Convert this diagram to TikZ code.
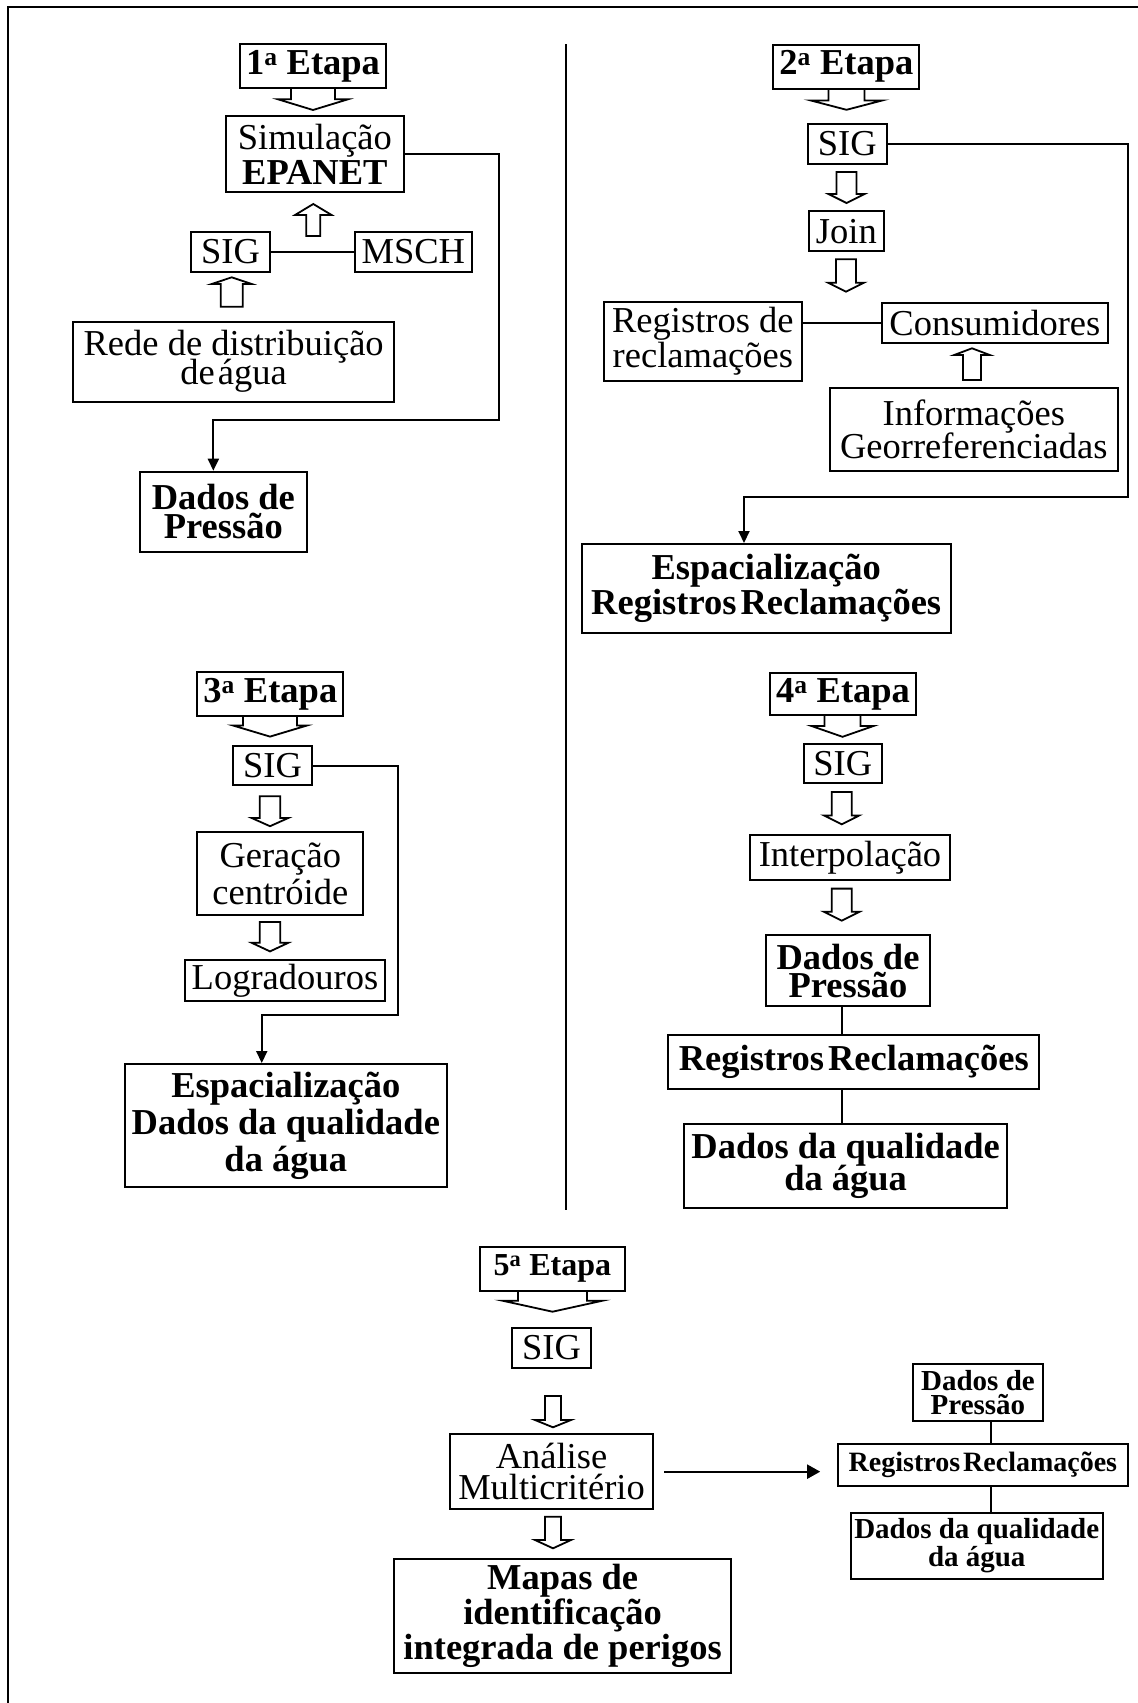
\documentclass[tikz,border=0pt]{standalone}
\usepackage{fontspec}
\setmainfont{Liberation Serif}
\usetikzlibrary{arrows.meta}
\newcommand\myfs[2]{\fontsize{#1}{#2}\selectfont\lineskiplimit=-100pt\relax}
\newcommand\mkbox[7]{\node[#2, minimum width={(#5-#3)*1pt}, minimum height={(#6-#4)*1pt}] (#1) at ({(#3+#5)/2},{-(#4+#6)/2}) {#7};}
\newcommand\harrow[6]{\draw[harr] ({#1-#5},{-#2}) -- ({#1-#5},{-#3}) -- ({#1-#6},{-#3}) -- ({#1},{-#4}) -- ({#1+#6},{-#3}) -- ({#1+#5},{-#3}) -- ({#1+#5},{-#2}) -- cycle;}
\newcommand\blockarr[6]{\draw[harr] ({#1-#5},{-#2}) -- ({#1-#5},{-#3}) -- ({#1-#6},{-#3}) -- ({#1},{-#4}) -- ({#1+#6},{-#3}) -- ({#1+#5},{-#3}) -- ({#1+#5},{-#2});}
\tikzset{
  bx/.style={draw, line width=2pt, inner sep=0pt, align=center, font={\myfs{36.5}{35}}},
  bxb/.style={bx, font={\bfseries\myfs{36.5}{35}}},
  harr/.style={line width=1.8pt, line join=miter},
  conn/.style={line width=2pt},
  arr/.style={conn, -{Triangle[length=12pt,width=11pt]}},
}
\begin{document}
\begin{tikzpicture}[x=1pt,y=1pt]
\useasboundingbox (0,0) rectangle (1138,-1703);
% frame and divider
\draw[line width=2.3pt] (7.8,-1703) -- (7.8,-6.7) -- (1138,-6.7);
\draw[line width=2pt] (566,-44) -- (566,-1210);

% ---------- 1a Etapa
\mkbox{et1}{bxb}{240}{44}{386}{88}{1\textsuperscript{a} Etapa}
\mkbox{sim}{bx}{225.7}{116}{404}{191.7}{Simulação\\\textbf{EPANET}}
\mkbox{sig1}{bx}{191}{231.7}{270}{271.7}{SIG}
\mkbox{msch}{bx}{355}{231.7}{471.7}{271.7}{MSCH}
\mkbox{rede}{bx,font={\myfs{36.5}{29}}}{73.3}{321.7}{394}{401.7}{Rede de distribuição\\de\kern3ptágua}
\mkbox{dp1}{bxb,font={\bfseries\myfs{36.5}{29}}}{140}{471.7}{306.7}{551.7}{Dados de\\Pressão}
\blockarr{313}{88}{99.3}{110}{22}{35}
\harrow{313.3}{236}{215}{204}{7}{18.3}
\harrow{231.7}{306.7}{284}{277.3}{11}{20}
\draw[conn] (sig1.east) -- (msch.west);
\draw[arr] (sim.east) -| (499.3,-420) -| ([xshift=-10pt]dp1.north);

% ---------- 2a Etapa
\mkbox{et2}{bxb}{773.4}{45}{919.3}{88.5}{2\textsuperscript{a} Etapa}
\mkbox{sig2}{bx}{808}{124}{886.6}{163.6}{SIG}
\mkbox{join}{bx}{809}{211}{883.8}{251.3}{Join}
\mkbox{reg2}{bx}{604}{301.7}{801.7}{381}{Registros de\\reclamações}
\mkbox{cons}{bx}{881.7}{302.7}{1108}{343}{Consumidores}
\mkbox{info}{bx,font={\myfs{36.5}{33}}}{830}{388.3}{1117.6}{470.7}{Informações\\Georreferenciadas}
\mkbox{esp2}{bxb}{581.7}{544}{950.7}{633.3}{Espacialização\\Registros\kern4pt Reclamações}
\blockarr{846.5}{88.5}{100.4}{109.8}{18}{36}
\harrow{846.5}{172}{194}{203}{10}{18}
\harrow{846}{259.3}{282.7}{291.7}{10}{18}
\harrow{972}{380}{355}{348.3}{9}{17.8}
\draw[conn] (reg2.east |- cons.west) -- (cons.west);
\draw[arr] (sig2.east) -| (1128,-496.5) -| ([xshift=-22.2pt]esp2.north);

% ---------- 3a Etapa
\mkbox{et3}{bxb}{197.3}{672}{343.3}{715.9}{3\textsuperscript{a} Etapa}
\mkbox{sig3}{bx}{233.3}{746.2}{311.7}{784.8}{SIG}
\mkbox{ger}{bx,font={\myfs{36.5}{37}}}{197.3}{832.4}{363.3}{915.2}{Geração\\centróide}
\mkbox{log}{bx}{185}{960}{385}{1001.4}{Logradouros}
\mkbox{esp3}{bxb,font={\bfseries\myfs{36.5}{37}}}{125}{1064}{446.7}{1187}{Espacialização\\Dados da qualidade\\da água}
\blockarr{270}{715.9}{725.5}{736.6}{27}{37}
\harrow{270}{796.2}{818}{826.2}{10.3}{18.3}
\harrow{270}{922}{942.8}{951.4}{10.3}{18.3}
\draw[arr] (sig3.east) -| (398.3,-1015.2) -| ([xshift=-24.1pt]esp3.north);

% ---------- 4a Etapa
\mkbox{et4}{bxb}{770}{672.5}{916}{715.4}{4\textsuperscript{a} Etapa}
\mkbox{sig4}{bx}{804}{744}{881.7}{783.2}{SIG}
\mkbox{interp}{bx}{750}{835}{950}{879.6}{Interpolação}
\mkbox{dp4}{bxb,font={\bfseries\myfs{36.5}{28}}}{766}{935}{930}{1006.4}{Dados de\\Pressão}
\mkbox{rr4}{bxb}{668.3}{1035}{1039.3}{1088.6}{Registros\kern4pt Reclamações}
\mkbox{dq4}{bxb,font={\bfseries\myfs{36.5}{32}}}{684}{1124.3}{1007.3}{1208}{Dados da qualidade\\da água}
\blockarr{842.5}{715.4}{726}{736.8}{18}{31}
\harrow{841.7}{792}{815.4}{824.3}{10}{17.7}
\harrow{841.7}{888.6}{911.8}{920.7}{10}{17.7}
\coordinate (c4) at (841.7,0);
\draw[conn] (dp4.south -| c4) -- (rr4.north -| c4);
\draw[conn] (rr4.south -| c4) -- (dq4.north -| c4);

% ---------- 5a Etapa
\mkbox{et5}{bxb,font={\bfseries\myfs{32}{32}}}{479.8}{1246.7}{625}{1290.7}{5\textsuperscript{a} Etapa}
\mkbox{sig5}{bx}{512}{1328.3}{591}{1367.7}{SIG}
\mkbox{ana}{bx,font={\myfs{36.5}{31}}}{449.6}{1434}{653.4}{1509.3}{Análise\\Multicritério}
\mkbox{map}{bxb}{393.8}{1559.3}{731.4}{1673.3}{Mapas de\\identificação\\integrada de perigos}
\mkbox{dp5}{bxb,font={\bfseries\myfs{29}{24}}}{913.4}{1364.3}{1042.5}{1420.7}{Dados de\\Pressão}
\mkbox{rr5}{bxb,font={\bfseries\myfs{28}{28}}}{838.2}{1444}{1127.6}{1485.7}{Registros\kern3pt Reclamações}
\mkbox{dq5}{bxb,font={\bfseries\myfs{29}{28}}}{851}{1512.7}{1102.5}{1579}{Dados da qualidade\\da água}
\blockarr{552.5}{1290.7}{1300.7}{1311.7}{34.5}{50}
\harrow{553}{1396}{1420}{1427.3}{8}{18}
\harrow{553}{1516.7}{1540}{1548.3}{8}{18}
\coordinate (c5) at (990.9,0);
\draw[conn] (dp5.south -| c5) -- (rr5.north -| c5);
\draw[conn] (rr5.south -| c5) -- (dq5.north -| c5);
\draw[conn, -{Triangle[length=13pt,width=14pt]}, shorten <=9.9pt, shorten >=17pt] (ana.east) -- (ana.east -| rr5.west);
\end{tikzpicture}
\end{document}
